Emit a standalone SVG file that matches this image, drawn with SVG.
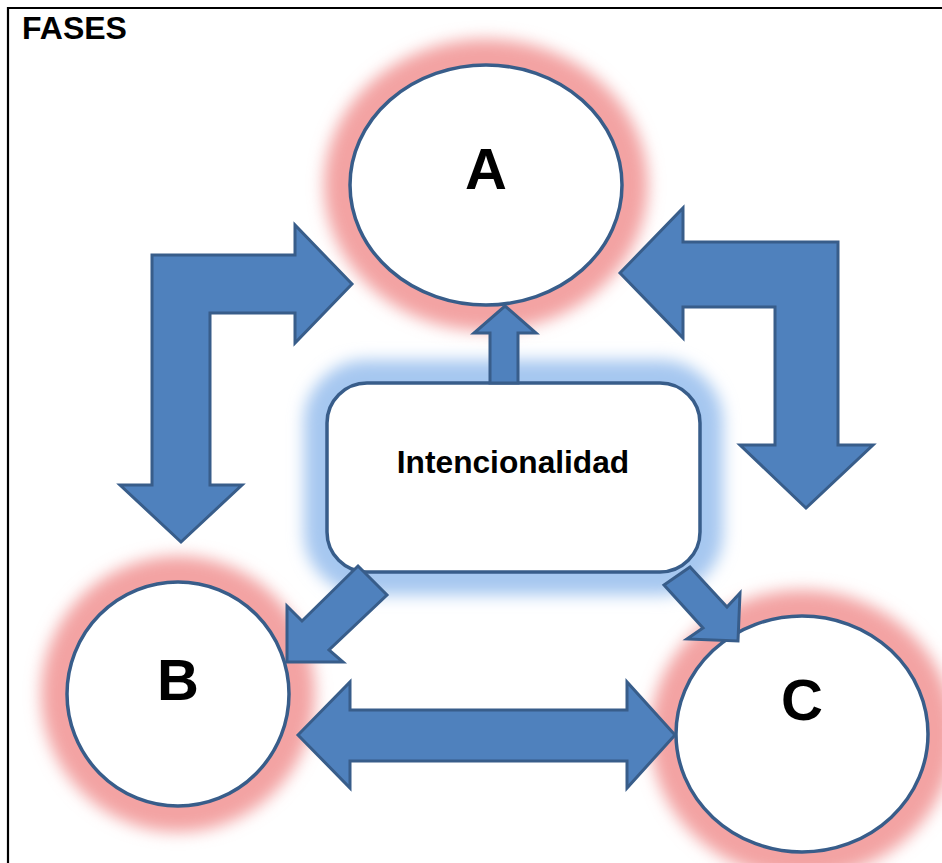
<svg xmlns="http://www.w3.org/2000/svg" width="942" height="863" viewBox="0 0 942 863">
<defs>
<filter id="glow" x="-30%" y="-30%" width="160%" height="160%"><feGaussianBlur stdDeviation="8"/></filter>
<style>
.frame{stroke:#000;stroke-width:2.2;fill:none}
.rg{fill:none;stroke:#f3a3a3;stroke-width:48;filter:url(#glow)}
.bg{fill:none;stroke:#a6c7f0;stroke-width:46;filter:url(#glow)}
.node{fill:#fff;stroke:#385d8a;stroke-width:3.5}
.arr{fill:#4f81bd;stroke:#385d8a;stroke-width:3;stroke-linejoin:miter}
.big{font-family:"Liberation Sans",Arial,sans-serif;font-weight:bold;fill:#000;text-anchor:middle}
</style>
</defs>
<rect width="942" height="863" fill="#fff"/>
<path class="frame" d="M8,863 L8,8 L942,8"/>
<text x="22" y="39" font-family="Liberation Sans, Arial, sans-serif" font-weight="bold" font-size="32">FASES</text>
<g id="glows">
<ellipse class="rg" cx="486" cy="185" rx="138" ry="122"/>
<ellipse class="rg" cx="178" cy="694" rx="113" ry="114"/>
<ellipse class="rg" cx="802" cy="734" rx="128" ry="120"/>
<rect class="bg" x="327" y="383" width="373" height="189" rx="40"/>
</g>
<g id="node-A">
<ellipse class="node" cx="486" cy="185" rx="136" ry="120"/>
<text class="big" x="486" y="189" font-size="58">A</text>
</g>
<g id="node-B">
<ellipse class="node" cx="178" cy="694" rx="111" ry="112"/>
<text class="big" x="178" y="700" font-size="58">B</text>
</g>
<g id="node-C">
<ellipse class="node" cx="802" cy="734" rx="126" ry="118"/>
<text class="big" x="802" y="720" font-size="58">C</text>
</g>
<g id="node-intencionalidad">
<rect class="node" x="327" y="383" width="373" height="189" rx="40"/>
<text class="big" x="513" y="473" font-size="31.7">Intencionalidad</text>
</g>
<g id="connectors">
<path class="arr" d="M152,255 L295,255 L295,225 L352,284 L295,343 L295,313 L210,313 L210,485 L242,485 L181,542 L120,485 L152,485 Z"/>
<path class="arr" d="M838,242 L683,242 L683,208 L620,273 L683,338 L683,307 L775,307 L775,445 L740,445 L806,508 L873,445 L838,445 Z"/>
<path class="arr" d="M490,383 L490,333 L474,333 L505,306 L536,333 L518,333 L518,383 Z"/>
<path class="arr" d="M358,566 L387,595 L329,650 L343,662 L287,662 L287,606 L302,621 Z"/>
<path class="arr" d="M664,585 L690,567 L727,607 L740,593 L738,641 L687,639 L703,628 Z"/>
<path class="arr" d="M298,735 L350,682 L350,710 L627,710 L627,682 L675,735 L627,788 L627,761 L350,761 L350,788 Z"/>
</g>
</svg>
